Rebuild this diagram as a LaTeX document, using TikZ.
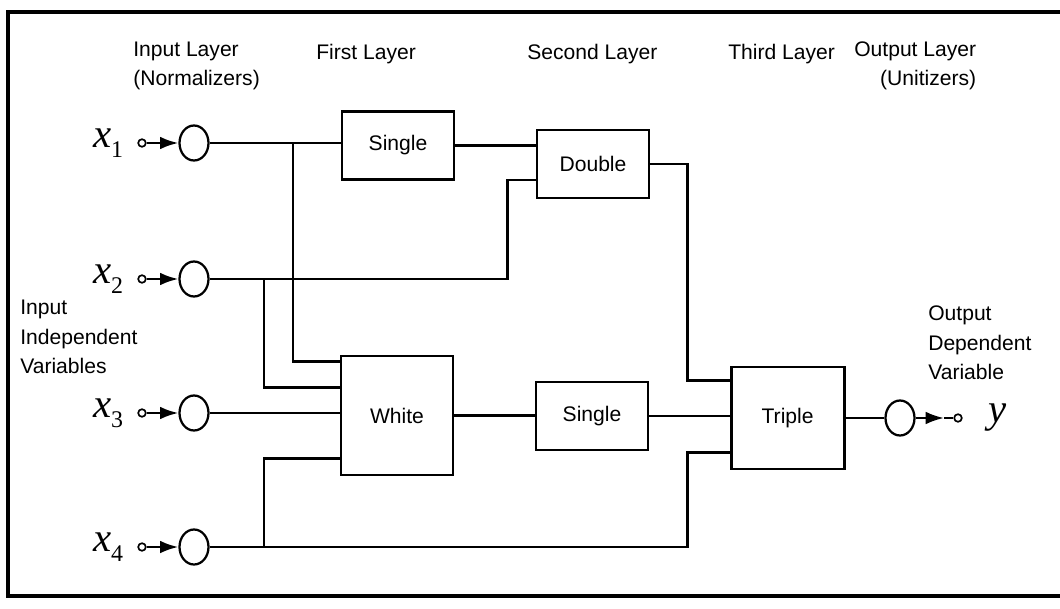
\documentclass[tikz,border=0pt]{standalone}
\usepackage{fontspec}
\setmainfont{Liberation Sans}
\newfontfamily\varfont{Liberation Serif}
\newcommand\invar[1]{x\raisebox{-7pt}{\upshape\fontsize{17}{17}\selectfont #1}}
\usetikzlibrary{positioning,arrows.meta,shapes.geometric}

\begin{document}
\begin{tikzpicture}[
  every node/.style={font=\fontsize{15}{21}\selectfont},
  layer/.style={draw,line width=2.1pt,minimum width=2.8cm,minimum height=1.7cm,inner sep=0pt},
  unit/.style={draw,ellipse,line width=1.6pt,minimum width=0.725cm,minimum height=0.875cm,inner sep=0pt},
  term/.style={draw,circle,line width=1.2pt,minimum size=0.19cm,inner sep=0pt},
  lbl/.style={anchor=west,align=left,inner sep=0pt},
  var/.style={font=\varfont\itshape\fontsize{29}{29}\selectfont,inner sep=0pt},
  wire/.style={line width=1.8pt},
  feed/.style={line width=1.8pt,-{Latex[length=13pt,width=9pt]}}
]
  \useasboundingbox (0,0) rectangle (26.5,15.2);
  \draw[line width=2.2pt] (26.5,14.9) -- (0.2,14.9) -- (0.2,0.3) -- (26.5,0.3);

  % headings
  \node[lbl] (inlayer) at (3.325,13.55) {Input Layer\\(Normalizers)};
  \node[lbl] (lay1) at (7.9,13.85) {First Layer};
  \node[lbl] (lay2) at (13.175,13.85) {Second Layer};
  \node[lbl] (lay3) at (18.2,13.85) {Third Layer};
  \node[lbl,align=right] (outlayer) at (21.35,13.55) {Output Layer\\(Unitizers)};
  \node[lbl] (invars) at (0.5,6.775) {Input\\Independent\\Variables};
  \node[lbl] (outvars) at (23.2,6.625) {Output\\Dependent\\Variable};

  % input layer
  \node[unit] (n1) at (4.85,11.625) {};
  \node[unit] (n2) at (4.85,8.225) {};
  \node[unit] (n3) at (4.85,4.875) {};
  \node[unit] (n4) at (4.85,1.525) {};
  \node[term] (s1) at (3.55,11.625) {};
  \node[term] (s2) at (3.55,8.225) {};
  \node[term] (s3) at (3.55,4.875) {};
  \node[term] (s4) at (3.55,1.525) {};
  \node[var,left=0.35cm of s1] (x1) {\invar{1}};
  \node[var,left=0.35cm of s2] (x2) {\invar{2}};
  \node[var,left=0.35cm of s3] (x3) {\invar{3}};
  \node[var,left=0.35cm of s4] (x4) {\invar{4}};
  \draw[feed] (s1) -- (n1);
  \draw[feed] (s2) -- (n2);
  \draw[feed] (s3) -- (n3);
  \draw[feed] (s4) -- (n4);

  % layers
  \node[layer] (single1) at (9.95,11.5625) {Single};
  \node[layer] (double) at (14.825,11.1) {Double};
  \node[layer,minimum height=2.975cm] (white) at (9.925,4.8125) {White};
  \node[layer] (single2) at (14.8,4.8) {Single};
  \node[layer,minimum width=2.825cm,minimum height=2.55cm] (triple) at (19.69,4.75) {Triple};

  % output layer
  \node[unit] (nout) at (22.5,4.75) {};
  \coordinate (tip) at (23.6,4.75);
  \node[term] (sy) at (23.95,4.75) {};
  \node[var,right=0.65cm of sy] (yv) {y};

  % branch points
  \coordinate (j1) at (7.325,11.625);
  \coordinate (j2) at (6.6,8.225);
  \coordinate (j4) at (6.6,1.525);
  \coordinate (w1) at ([yshift=-0.175cm]white.north west);
  \coordinate (w2) at ([yshift=-0.825cm]white.north west);
  \coordinate (w4) at ([yshift=0.45cm]white.south west);
  \coordinate (d2) at ([yshift=-0.4cm]double.west);
  \coordinate (tin1) at ([yshift=-0.375cm]triple.north west);
  \coordinate (tin3) at ([yshift=0.45cm]triple.south west);

  \draw[wire] (n1) -- (n1 -| single1.west);
  \draw[wire] (w1) -| (j1);
  \draw[wire] (single1.east) -- (single1.east -| double.west);
  \draw[wire] (n2) -| ([xshift=-0.7cm]d2) -- (d2);
  \draw[wire] (w2) -| (j2);
  \draw[wire] (n3) -- (n3 -| white.west);
  \draw[wire] (n4) -| ([xshift=-1.05cm]tin3) -- (tin3);
  \draw[wire] (w4) -| (j4);
  \draw[wire] (white.east) -- (white.east -| single2.west);
  \draw[wire] (single2.east) -- (single2.east -| triple.west);
  \draw[wire] (double.east) -| ([xshift=-1.05cm]tin1) -- (tin1);
  \draw[wire] (triple) -- (nout);
  \draw[feed] (nout) -- (tip);
  \draw[wire] (tip) -- (sy);
\end{tikzpicture}
\end{document}
